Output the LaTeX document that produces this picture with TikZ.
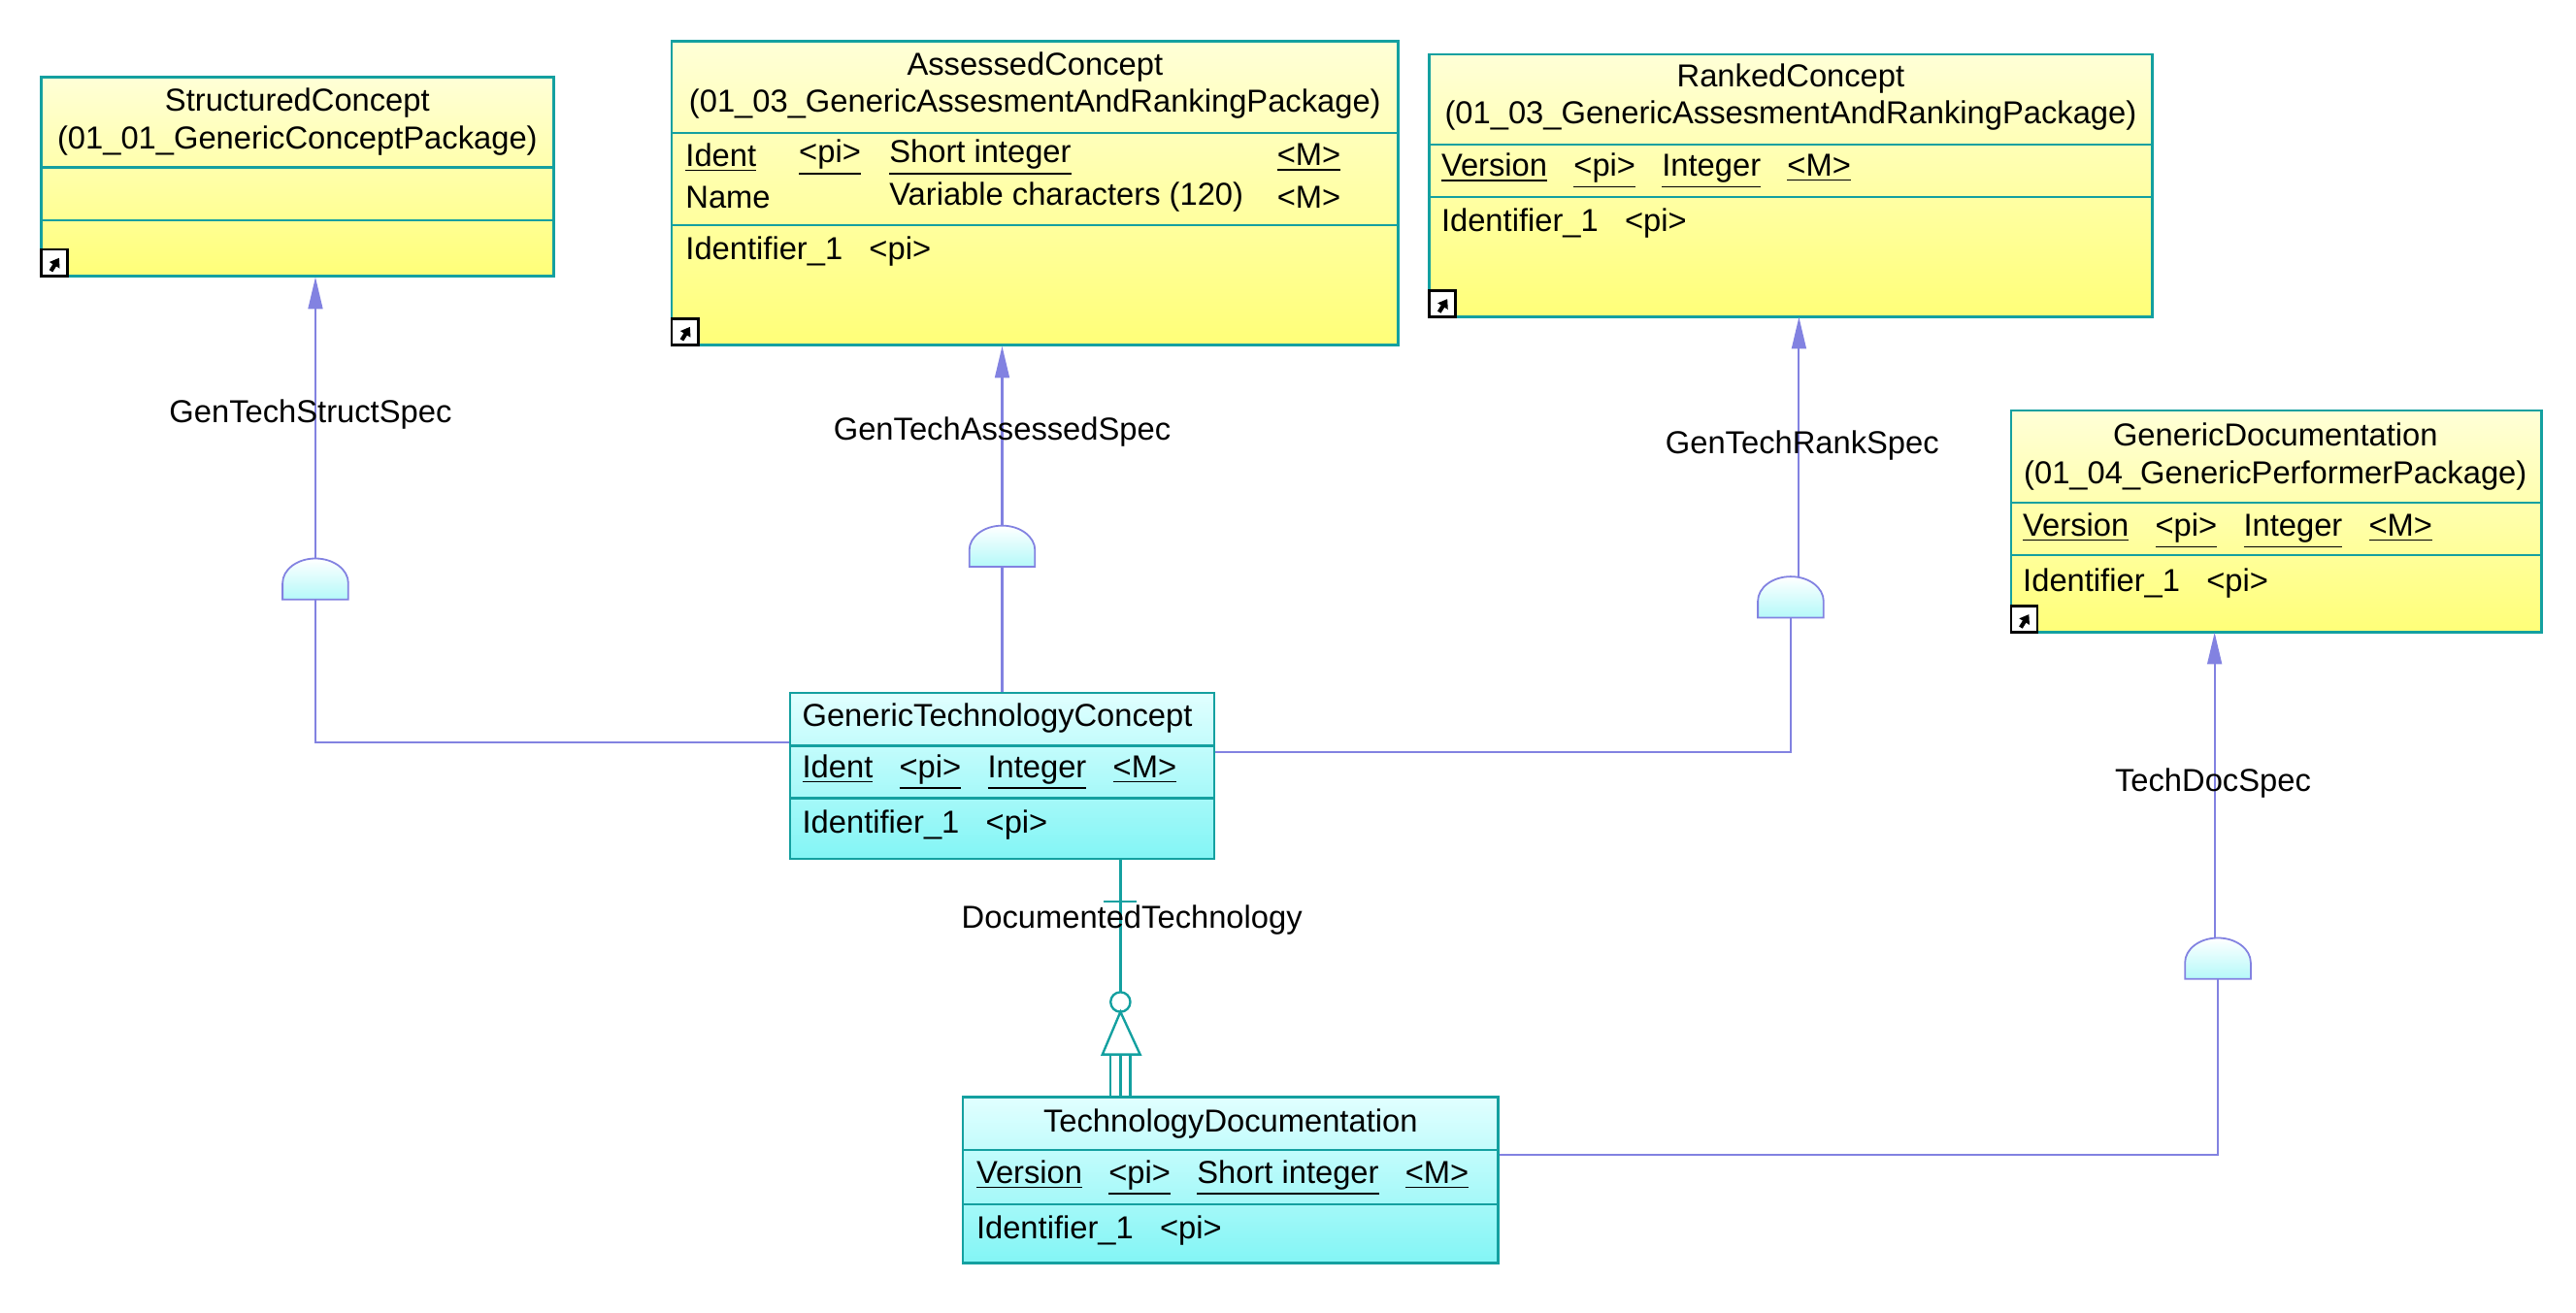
\documentclass[tikz,border=0pt]{standalone}
\usepackage{fontspec}
\setmainfont{Liberation Sans}
\usetikzlibrary{positioning,arrows.meta,calc,fit}
\definecolor{entline}{RGB}{20,160,160}
\definecolor{relline}{RGB}{130,130,225}
\definecolor{yellowA}{RGB}{255,255,215}
\definecolor{yellowB}{RGB}{255,255,120}
\definecolor{cyanA}{RGB}{225,255,255}
\definecolor{cyanB}{RGB}{130,245,245}
\tikzset{
  ent/.style={draw=entline, line width=0.8pt, inner sep=0pt},
  yel/.style={ent, top color=yellowA, bottom color=yellowB},
  cya/.style={ent, top color=cyanA, bottom color=cyanB},
  sep/.style={draw=entline, line width=0.8pt},
  txt/.style={inner sep=0pt, anchor=west, font=\fontsize{11}{13}\selectfont},
  ttl/.style={inner sep=0pt, align=center, font=\fontsize{11}{13}\selectfont},
  lbl/.style={inner sep=1pt, font=\fontsize{11}{13}\selectfont},
  rel/.style={draw=relline, line width=0.7pt},
  dome/.style={draw=relline, line width=0.6pt, top color=white, bottom color=cyanB!60},
  tip/.style={-{Triangle[length=11pt,width=5pt]}},
  idn/.style={draw=entline, line width=0.8pt}
}
\newcommand{\shortcut}[1]{%
  \draw[black, fill=white, line width=0.8pt] (#1) rectangle ++(16,-16);
  \draw[black, line width=1.4pt, -{Triangle[length=3pt,width=4pt]}] ($(#1)+(6,-3)$) -- ++(5,-8);}
\newcommand{\dome}[2]{%
  \path[dome] ($(#1)+(-20,#2)$) -- ++(0,-10) arc (180:360:20 and 15) -- ++(0,10) -- cycle;}
\begin{document}
\begin{tikzpicture}[x=0.02cm, y=-0.02cm]
\useasboundingbox (0,0) rectangle (1568,799.3);

% entities
\node[yel, fit={(25,47)(337,168)}] (sc) {};
\draw[sep] (25,102) -- (337,102) (25,134) -- (337,134);
\node[ttl] at (181,74) {StructuredConcept\\(01\_01\_GenericConceptPackage)};
\shortcut{25,168}

\node[yel, fit={(409,25)(851,210)}] (ac) {};
\draw[sep] (409,81) -- (851,81) (409,137) -- (851,137);
\node[ttl] at (630,52) {AssessedConcept\\(01\_03\_GenericAssesmentAndRankingPackage)};
\node[txt] at (417,96) {\underline{Ident}};
\node[txt] at (486,96) {\underline{<pi>}};
\node[txt] at (541,96) {\underline{Short integer}};
\node[txt] at (777,96) {\underline{<M>}};
\node[txt] at (417,120) {Name};
\node[txt] at (541,120) {Variable characters (120)};
\node[txt] at (777,120) {<M>};
\node[txt] at (417,153) {Identifier\_1\ \ \ <pi>};
\shortcut{409,210}

\node[yel, fit={(870,33)(1310,193)}] (rc) {};
\draw[sep] (870,88) -- (1310,88) (870,120) -- (1310,120);
\node[ttl] at (1090,59) {RankedConcept\\(01\_03\_GenericAssesmentAndRankingPackage)};
\node[txt] at (877,104) {\underline{Version}\ \ \ \underline{<pi>}\ \ \ \underline{Integer}\ \ \ \underline{<M>}};
\node[txt] at (877,136) {Identifier\_1\ \ \ <pi>};
\shortcut{870,193}

\node[yel, fit={(1224,250)(1547,385)}] (gd) {};
\draw[sep] (1224,306) -- (1547,306) (1224,338) -- (1547,338);
\node[ttl] at (1385,278) {GenericDocumentation\\(01\_04\_GenericPerformerPackage)};
\node[txt] at (1231,323) {\underline{Version}\ \ \ \underline{<pi>}\ \ \ \underline{Integer}\ \ \ \underline{<M>}};
\node[txt] at (1231,355) {Identifier\_1\ \ \ <pi>};
\shortcut{1224,385}

\node[cya, fit={(481,422)(739,523)}] (gtc) {};
\draw[sep] (481,454) -- (739,454) (481,486) -- (739,486);
\node[txt] at (488,437) {GenericTechnologyConcept};
\node[txt] at (488,470) {\underline{Ident}\ \ \ \underline{<pi>}\ \ \ \underline{Integer}\ \ \ \underline{<M>}};
\node[txt] at (488,502) {Identifier\_1\ \ \ <pi>};

\node[cya, fit={(586,668)(912,769)}] (td) {};
\draw[sep] (586,700) -- (912,700) (586,733) -- (912,733);
\node[ttl] at (749,684) {TechnologyDocumentation};
\node[txt] at (594,717) {\underline{Version}\ \ \ \underline{<pi>}\ \ \ \underline{Short integer}\ \ \ \underline{<M>}};
\node[txt] at (594,749) {Identifier\_1\ \ \ <pi>};

% subtype links
\coordinate (d1) at (192,365);
\coordinate (d2) at (610,345);
\coordinate (d3) at (1090,376);
\coordinate (d4) at (1350,596);
\draw[rel, tip] (d1) -- (d1 |- sc.south);
\draw[rel] (d1) -- (192,452) -- (gtc.west |- 0,452);
\dome{d1}{0}
\draw[rel, tip] (d2) -- (d2 |- ac.south);
\draw[rel] (d2) -- (gtc.north -| d2);
\dome{d2}{0}
\draw[rel, tip] (d3) ++(5,0) -- (1095,193);
\draw[rel] (d3) -- (1090,458) -- (gtc.east |- 0,458);
\dome{d3}{0}
\draw[rel, tip] (d4) ++(-2,0) -- (1348,385);
\draw[rel] (d4) -- (1350,703) -- (td.east |- 0,703);
\dome{d4}{0}
\node[lbl] at (189,252) {GenTechStructSpec};
\node[lbl] at (610,263) {GenTechAssessedSpec};
\node[lbl] at (1097,271) {GenTechRankSpec};
\node[lbl] at (1347,477) {TechDocSpec};

% identifying relationship
\coordinate (tdTop) at (682,668);
\draw[idn] (gtc.south -| tdTop) -- (682,604);
\draw[idn] (672,549) -- (692,549);
\draw[idn] (682,610) circle (6);
\draw[idn] (682,616) -- (671,642) -- (694,642) -- cycle;
\foreach \dx in {-6,0,6} \draw[idn] (682+\dx,642) -- (682+\dx,668);
\node[lbl] at (689,560) {DocumentedTechnology};
\end{tikzpicture}
\end{document}
